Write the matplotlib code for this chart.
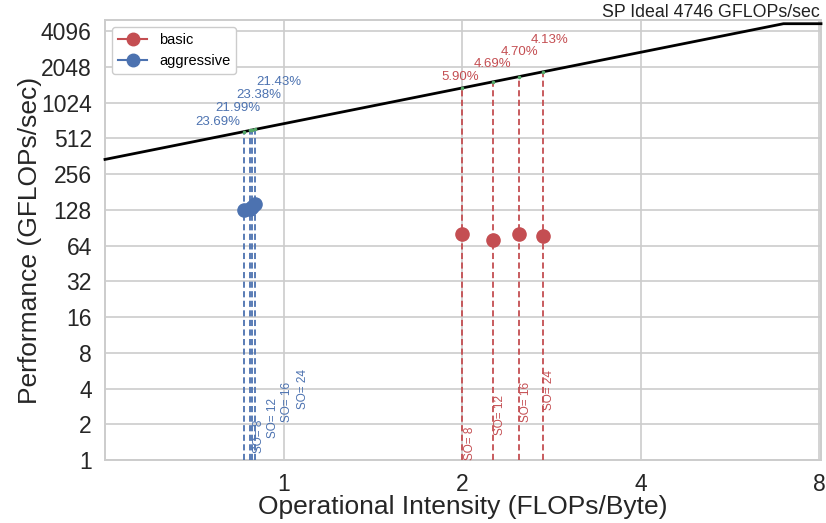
import numpy as np
import matplotlib
matplotlib.use("Agg")
from matplotlib import pyplot as plt
from matplotlib.lines import Line2D

plt.rcParams['font.family'] = ['Liberation Sans', 'DejaVu Sans']

# ROOFLINE DATA
peak = 4746.0          # GFLOPs/sec
bandwidth = 682.0      # GB/s
so_labels = ["SO= 8", "SO= 12", "SO= 16", "SO= 24"]

basic_oi = [2.00, 2.25, 2.49, 2.74]
basic_perf = [80.5, 72.0, 80.0, 77.0]
basic_pct = ["5.90%", "4.69%", "4.70%", "4.13%"]

aggr_oi = [0.858, 0.877, 0.885, 0.894]
aggr_perf = [128.0, 131.0, 136.0, 143.0]
aggr_pct = ["23.69%", "21.99%", "23.38%", "21.43%"]

xticks = [1, 2, 4, 8]
yticks = [2 ** i for i in range(13)]

RED = "#C44E52"
BLUE = "#4C72B0"
GREEN = "#55A868"
GRID = "#cccccc"

PX = 72.0 / 100  # pixels -> points

fig = plt.figure(figsize=(8.26, 5.23), dpi=100)
ax = fig.add_axes([105 / 826, 63 / 523, 716 / 826, 440 / 523])

xmin, xmax = 0.5, 8.05
ridge = peak / bandwidth
rx = np.array([xmin, ridge, xmax])
ax.plot(rx, np.minimum(rx * bandwidth, peak), color="black", lw=2, zorder=4, clip_on=False)


def roof(x):
    return min(x * bandwidth, peak)


# label offsets (pixels) from line/roof crossing
series = [
    (basic_oi, basic_perf, basic_pct, RED, "basic",
     [(-2, 11), (0, 18), (1, 25), (6, 32)],
     [(8, 17), (7, 45), (7, 58), (6, 70)]),
    (aggr_oi, aggr_perf, aggr_pct, BLUE, "aggressive",
     [(-26, 10), (-12, 22), (7, 35), (24, 47)],
     [(15, 24), (23, 42), (35, 58), (48, 71)]),
]

for oi, perf, pct, col, name, pct_off, so_off in series:
    for i in range(len(oi)):
        r = roof(oi[i])
        ax.plot([oi[i], oi[i]], [1, r], color=col, ls=(0, (3.4, 1.9)), lw=1.3, zorder=3)
        ax.plot(oi[i], r, marker="o", ms=1.6, color=GREEN, zorder=5)
        ax.plot(oi[i], perf[i], marker="o", ms=9.5, color=col, zorder=6)
        ax.annotate(pct[i], xy=(oi[i], r), xytext=(pct_off[i][0] * PX, pct_off[i][1] * PX),
                    textcoords="offset points", ha="center", va="center",
                    color=col, fontsize=9.5)
        ax.annotate(so_labels[i], xy=(oi[i], 1), xytext=(so_off[i][0] * PX, so_off[i][1] * PX),
                    textcoords="offset points", ha="center", va="center",
                    rotation=90, color=col, fontsize=8.5)

ax.annotate("SP Ideal %d GFLOPs/sec" % peak, xy=(8, peak), xytext=(0, 7 * PX),
            textcoords="offset points", ha="right", va="baseline", fontsize=12.8,
            color="#222222", annotation_clip=False)

ax.set_xscale("log", base=2)
ax.set_yscale("log", base=2)
ax.set_xlim(xmin, xmax)
ax.set_ylim(1, 5100)
ax.set_xticks(xticks)
ax.set_xticklabels([str(v) for v in xticks])
ax.set_yticks(yticks)
ax.set_yticklabels([str(v) for v in yticks])
ax.minorticks_off()
ax.tick_params(length=0, pad=9.5, labelsize=16.5, colors="#262626")

ax.grid(True, color=GRID, lw=1.2)
ax.set_axisbelow(True)
for s in ax.spines.values():
    s.set_color(GRID)
    s.set_linewidth(1.4)

ax.set_xlabel("Operational Intensity (FLOPs/Byte)", fontsize=19, color="#262626", labelpad=-1)
ax.set_ylabel("Performance (GFLOPs/sec)", fontsize=19, color="#262626", labelpad=-1)

handles = [Line2D([], [], color=RED, marker="o", ms=9, lw=1.5),
           Line2D([], [], color=BLUE, marker="o", ms=9, lw=1.5)]
ax.legend(handles, ["basic", "aggressive"], loc="upper left", fontsize=10.5,
          frameon=True, edgecolor=GRID, framealpha=1, fancybox=True)

fig.savefig("out.png", dpi=100)
